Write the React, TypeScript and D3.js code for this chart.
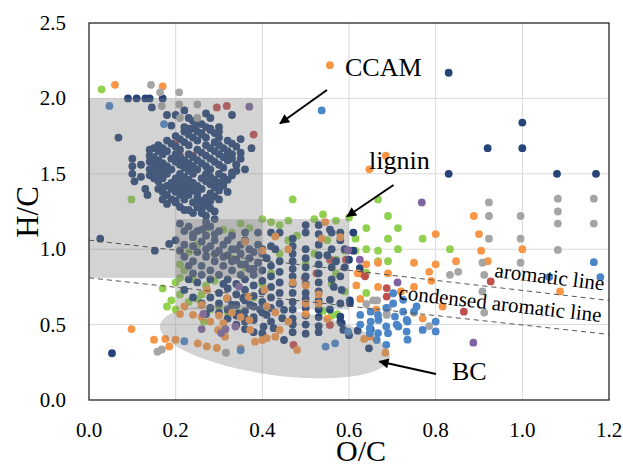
import React from "react";
import * as d3 from "d3";

// ---------- data (O/C, H/C) ----------
const xTicks = [0, 0.2, 0.4, 0.6, 0.8, 1.0, 1.2];
const yTicks = [0, 0.5, 1.0, 1.5, 2.0, 2.5];

const navy: [number, number][] = [
  [0.09,2.0],[0.11,2.0],[0.13,2.0],[0.14,2.0],[0.17,2.0],[0.145,1.94],[0.068,1.74],[0.83,2.17],[0.92,1.67],[1.0,1.84],[1.0,1.67],[0.83,1.5],[1.08,1.5],[1.17,1.5],[0.053,0.31],[0.026,1.07],[0.152,0.99],[0.185,1.035],
  [0.18,1.89],[0.2,1.89],[0.22,1.92],[0.23,1.87],[0.27,1.9],[0.28,1.87],[0.33,1.89],[0.19,1.82],[0.22,1.81],[0.23,1.8],[0.26,1.77],[0.28,1.8],[0.3,1.81],[0.3,1.78],[0.35,1.73],[0.375,1.67],[0.34,1.56],[0.36,1.53],[0.33,1.49],[0.32,1.63],[0.24,1.85],[0.25,1.83],[0.35,1.64],[0.33,1.6],[0.34,1.52],
  [0.26,1.83],[0.27,1.81],[0.28,1.79],[0.29,1.77],[0.3,1.74],[0.32,1.72],[0.33,1.7],[0.34,1.68],
  [0.24,1.8],[0.25,1.78],[0.26,1.76],[0.27,1.74],[0.29,1.71],[0.3,1.69],[0.31,1.67],[0.32,1.65],[0.33,1.63],[0.35,1.6],
  [0.22,1.78],[0.23,1.76],[0.24,1.74],[0.25,1.72],[0.27,1.69],[0.28,1.67],[0.29,1.65],[0.3,1.63],[0.31,1.61],[0.32,1.59],[0.34,1.56],
  [0.2,1.75],[0.21,1.73],[0.22,1.71],[0.23,1.69],[0.25,1.66],[0.26,1.64],[0.27,1.62],[0.28,1.6],[0.29,1.58],[0.3,1.56],[0.31,1.54],[0.33,1.51],
  [0.18,1.72],[0.19,1.7],[0.2,1.68],[0.21,1.66],[0.23,1.63],[0.24,1.61],[0.25,1.59],[0.26,1.57],[0.27,1.55],[0.28,1.53],[0.3,1.5],[0.31,1.48],[0.32,1.46],
  [0.16,1.69],[0.17,1.67],[0.18,1.65],[0.2,1.63],[0.21,1.61],[0.22,1.59],[0.23,1.57],[0.24,1.55],[0.25,1.53],[0.27,1.5],[0.28,1.48],[0.29,1.46],[0.3,1.44],[0.31,1.42],
  [0.15,1.67],[0.16,1.65],[0.17,1.63],[0.19,1.6],[0.2,1.58],[0.21,1.56],[0.22,1.54],[0.23,1.52],[0.24,1.5],[0.26,1.47],[0.27,1.45],[0.28,1.43],[0.29,1.41],[0.3,1.39],
  [0.15,1.61],[0.16,1.59],[0.17,1.57],[0.18,1.55],[0.19,1.53],[0.21,1.5],[0.22,1.48],[0.23,1.46],[0.24,1.44],[0.25,1.42],[0.26,1.4],[0.28,1.37],[0.29,1.35],
  [0.14,1.58],[0.15,1.56],[0.16,1.54],[0.17,1.52],[0.18,1.5],[0.2,1.47],[0.21,1.45],[0.22,1.43],[0.23,1.41],[0.24,1.39],[0.25,1.37],[0.27,1.34],[0.28,1.32],
  [0.14,1.53],[0.15,1.51],[0.16,1.49],[0.17,1.47],[0.19,1.44],[0.2,1.42],[0.21,1.4],[0.22,1.38],[0.23,1.36],[0.25,1.34],[0.26,1.32],[0.27,1.29],
  [0.14,1.49],[0.15,1.47],[0.16,1.45],[0.18,1.42],[0.19,1.4],[0.2,1.38],[0.21,1.36],[0.22,1.33],[0.24,1.31],[0.25,1.29],[0.26,1.27],
  [0.16,1.4],[0.17,1.38],[0.18,1.36],[0.19,1.33],[0.2,1.31],[0.21,1.28],[0.22,1.26],[0.24,1.24],
  [0.1,1.6],[0.1,1.55],[0.1,1.5],[0.105,1.45],[0.14,1.66],[0.14,1.62],[0.13,1.4],[0.135,1.36],[0.12,1.56],[0.12,1.48],
  [0.17,1.41],[0.17,1.33],[0.18,1.3],[0.2,1.32],[0.23,1.26],[0.25,1.31],[0.26,1.24],[0.275,1.3],[0.29,1.25],[0.3,1.33],[0.32,1.38],[0.31,1.45],[0.26,1.25],[0.27,1.22],[0.28,1.27],[0.29,1.2],[0.25,1.28],[0.27,1.18],[0.28,1.15],
  [0.47,1.07],[0.47,1.02],[0.47,0.97],[0.47,0.92],[0.47,0.87],[0.47,0.82],[0.47,0.77],[0.47,0.71],[0.47,0.65],[0.47,0.6],[0.47,0.54],[0.47,0.5],[0.47,0.45],
  [0.5,1.16],[0.5,1.11],[0.5,1.0],[0.5,0.94],[0.5,0.88],[0.5,0.82],[0.5,0.77],[0.5,0.71],[0.5,0.67],[0.5,0.61],[0.5,0.56],[0.5,0.5],[0.5,0.44],
  [0.53,1.16],[0.53,1.1],[0.53,1.03],[0.53,0.96],[0.53,0.9],[0.53,0.84],[0.53,0.78],[0.53,0.72],[0.53,0.66],[0.53,0.6],[0.53,0.55],[0.53,0.49],[0.53,0.45],
  [0.34,1.0],[0.37,1.0],[0.4,1.0],[0.43,1.0],[0.56,1.0],[0.59,1.0],[0.36,1.11],[0.39,1.11],[0.42,1.11],[0.44,1.11],[0.56,1.11],[0.58,1.11],
  [0.44,0.92],[0.42,0.89],[0.4,0.86],[0.38,0.83],[0.36,0.8],[0.34,0.77],[0.32,0.74],[0.3,0.71],[0.28,0.68],
  [0.44,0.85],[0.42,0.82],[0.4,0.79],[0.38,0.76],[0.36,0.73],[0.34,0.7],[0.32,0.67],[0.3,0.64],
  [0.44,0.78],[0.42,0.75],[0.4,0.72],[0.38,0.69],[0.36,0.66],[0.34,0.63],[0.32,0.6],
  [0.44,0.71],[0.42,0.68],[0.4,0.65],[0.38,0.62],[0.36,0.59],[0.34,0.56],
  [0.44,0.64],[0.42,0.61],[0.4,0.58],[0.38,0.55],[0.36,0.52],
  [0.556,1.13],[0.58,1.06],[0.56,0.88],[0.58,0.82],[0.56,0.8],[0.583,0.73],[0.565,0.75],[0.602,0.66],[0.58,0.64],[0.556,0.6],[0.58,0.52],[0.55,0.96],[0.57,0.92],[0.59,0.88],
  [0.356,0.675],[0.372,0.63],[0.395,0.6],[0.41,0.564],[0.42,0.52],[0.38,0.531],[0.403,0.487],[0.426,0.476],[0.33,0.63],[0.343,0.575],[0.36,0.542],[0.45,0.598],[0.446,0.542],[0.45,0.398],[0.4,0.443],[0.58,0.553],[0.583,0.509],[0.587,0.465],[0.556,0.664],[0.602,0.642],[0.646,0.343],[0.65,0.47],[0.6,0.43],[0.62,0.46],[0.3,0.58],[0.28,0.61],[0.26,0.64],[0.32,0.54],[0.34,0.5],[0.36,0.47],[0.38,0.45],[0.27,0.57],[0.24,0.68],[0.22,0.73],
  [0.21,1.17],[0.23,1.15],[0.22,1.12],[0.25,1.12],[0.24,1.08],[0.27,1.09],[0.26,1.05],[0.29,1.06],[0.28,1.02],[0.31,1.03],[0.3,0.99],[0.33,1.0],[0.32,0.96],[0.35,0.97],[0.34,0.93],[0.37,0.94],[0.36,0.9],[0.39,0.91],[0.38,0.87],
  [0.27,1.15],[0.3,1.12],[0.33,1.09],[0.36,1.06],[0.39,1.03],
  [0.25,0.98],[0.27,0.95],[0.29,0.92],[0.31,0.89],[0.33,0.86],[0.35,0.83],
  [0.22,0.95],[0.24,0.92],[0.26,0.89],[0.28,0.86],[0.3,0.83],[0.32,0.8],
  [0.29,0.97],[0.31,0.95],[0.33,0.92],[0.35,0.9],[0.37,0.87],[0.4,0.97],[0.42,1.02],[0.41,0.94],
  [0.2,1.06],[0.22,1.03],[0.21,0.99],[0.23,0.8],[0.25,0.78],[0.24,0.84],
  [0.24,1.1],[0.26,1.13],[0.29,1.1],[0.32,1.06],[0.35,1.03],[0.38,0.98],[0.27,1.0],[0.24,1.02],[0.23,0.89],[0.26,0.83],[0.28,0.8],[0.31,0.77],
  [0.61,1.11],[0.61,0.99],[0.625,0.875],[0.6,0.93],
];

const orange: [number, number][] = [
  [0.556,2.22],[0.06,2.09],[0.17,2.08],[0.685,1.62],[0.647,1.53],
  [0.888,1.22],[0.9,1.1],[0.905,0.99],[0.92,0.92],[1.0,1.0],[1.087,0.72],[0.8,1.1],[0.847,0.92],[0.8,0.9],[0.75,0.91],[0.785,0.85],[0.75,0.75],[0.79,0.79],[0.816,0.62],[0.77,0.54],[0.75,0.58],[0.667,0.91],[0.667,0.75],[0.69,0.84],[0.617,0.76],[0.62,0.84],[0.626,0.67],[0.663,0.6],[0.65,0.42],[0.635,0.405],[0.684,0.314],[0.64,0.9],[0.72,0.72],
  [0.098,0.47],[0.15,0.4],[0.176,0.405],[0.185,0.355],[0.2,0.4],[0.24,0.565],[0.251,0.375],[0.272,0.355],[0.295,0.345],[0.298,0.465],[0.314,0.465],[0.314,0.42],[0.35,0.343],[0.372,0.465],[0.383,0.387],[0.4,0.398],[0.41,0.41],[0.43,0.42],[0.44,0.465],[0.48,0.332],[0.5,0.64],[0.33,0.58],[0.35,0.55],[0.28,0.52],[0.3,0.56],[0.26,0.55],[0.37,0.53],[0.41,0.62],[0.43,0.58],[0.46,0.52],[0.5,0.57],[0.55,0.54],[0.31,0.51],[0.21,0.57],
  [0.545,1.18],[0.537,1.07],[0.43,1.085],[0.46,1.0],[0.405,0.73],[0.368,0.686],[0.318,0.675],[0.272,0.73],[0.26,0.63],[0.36,1.05],[0.4,0.99],[0.58,1.08],[0.47,0.78],[0.22,0.62],[0.53,0.7],[0.5,0.76],[0.53,0.64],
];

const grey: [number, number][] = [
  [0.143,2.09],[0.164,2.04],[0.168,1.95],[0.208,2.04],[0.208,1.96],[0.25,1.96],[0.25,1.87],[0.21,1.87],
  [0.923,1.31],[0.923,1.22],[0.923,1.07],[0.908,0.91],[0.912,0.83],[0.908,0.72],[0.912,0.58],[0.996,1.22],[0.996,1.07],[0.996,0.91],[1.082,1.335],[1.082,1.25],[1.082,1.17],[1.082,0.995],[1.165,1.335],[1.165,1.17],
  [0.833,0.83],[0.852,0.85],[0.665,0.66],[0.69,0.61],[0.687,0.57],[0.785,0.49],
  [0.158,0.32],[0.168,0.335],[0.316,0.314],[0.64,0.637],[0.656,0.66],[0.687,0.564],
];

const blue: [number, number][] = [
  [0.047,1.95],[0.173,1.83],[0.537,1.92],[1.165,0.914],[1.18,0.815],[1.062,0.815],
  [0.626,0.564],[0.65,0.586],[0.626,0.5],[0.65,0.52],[0.667,0.564],[0.686,0.61],[0.702,0.64],[0.725,0.586],[0.71,0.5],[0.735,0.52],[0.75,0.586],[0.8,0.52],[0.8,0.455],[0.735,0.4],[0.686,0.488],[0.667,0.444],[0.686,0.366],[0.77,0.465],[0.702,0.708],[0.725,0.664],[0.648,0.443],[0.664,0.398],[0.69,0.443],[0.714,0.487],[0.733,0.531],[0.733,0.454],[0.706,0.553],[0.756,0.62],[0.668,0.531],[0.648,0.476],
  [0.546,0.354],[0.568,0.376],[0.598,0.453],[0.35,0.33],[0.22,0.39],
];

const green: [number, number][] = [
  [0.029,2.06],[0.098,1.33],[0.47,1.33],[0.667,1.33],[0.69,1.22],[0.713,1.14],[0.77,1.07],[0.833,1.0],[0.713,1.0],[0.69,1.07],[0.667,0.99],[0.64,1.0],[0.615,1.07],[0.64,1.14],[0.6,1.21],[0.64,0.845],[0.69,0.92],[0.64,0.71],[0.573,0.57],[0.667,0.92],[0.615,0.99],
  [0.4,1.2],[0.42,1.18],[0.44,1.16],[0.46,1.19],[0.54,1.23],[0.52,1.2],[0.57,1.19],[0.37,1.14],[0.35,1.17],[0.33,1.11],[0.31,1.13],[0.27,1.13],[0.25,1.03],[0.23,0.98],[0.21,0.9],[0.22,0.86],[0.24,0.8],[0.2,0.78],[0.27,0.76],[0.29,0.79],[0.26,0.7],[0.21,0.7],[0.19,0.66],[0.23,0.65],[0.25,0.67],[0.28,0.6],[0.32,0.58],[0.3,0.62],[0.38,0.68],[0.4,0.77],[0.42,0.84],[0.44,0.97],[0.46,1.06],[0.48,1.09],[0.52,0.97],[0.55,1.06],[0.58,1.11],[0.59,0.99],[0.57,0.84],[0.56,0.77],[0.59,0.72],[0.54,0.59],[0.56,0.56],[0.2,0.6],[0.265,0.52],[0.345,0.58],[0.57,0.93],[0.5,0.9],[0.36,0.88],[0.33,0.94],[0.18,0.62],[0.17,0.74],[0.21,0.81],
];

const red: [number, number][] = [
  [0.295,1.94],[0.318,1.95],[0.38,1.76],[0.2,1.7],[0.21,1.62],[0.24,1.62],[0.23,1.56],[0.498,0.81],[0.556,0.93],[0.565,0.92],[0.525,0.84],[0.472,0.365],[0.556,0.498],[0.687,0.686],[0.687,0.742],[0.637,0.82],[0.626,0.84],[0.865,0.586],[0.927,0.786],[0.593,0.93],[0.47,0.51],
];

const purple: [number, number][] = [
  [0.37,1.945],[0.768,1.31],[0.887,0.38],[0.712,0.78],[0.598,0.993],[0.625,0.93],[0.264,0.571],[0.305,0.444],[0.315,0.47],[0.346,0.752],[0.338,0.487],[0.26,0.47],
];

// reference lines [O/C, H/C] end points
const aromaticLine: [number, number][] = [[0, 1.06], [1.2, 0.66]];
const condensedLine: [number, number][] = [[0, 0.81], [1.2, 0.435]];

// shaded regions
const ccamBox = { x0: 0, x1: 0.4, y0: 0.81, y1: 2.0 };
const ligninBox = { x0: 0.2, x1: 0.6, y0: 0.6, y1: 1.2 };
const bcEllipse = { cx: 0.429, cy: 0.388, rx: 0.268, ry: 0.222, rot: 8 };

const W = 623, H = 466;
const M = { left: 89, right: 609, top: 23, bottom: 400 };
const FONT = "'Liberation Serif', 'Times New Roman', serif";

const series: { data: [number, number][]; color: string }[] = [
  { data: green, color: "#92d050" },
  { data: red, color: "#c0504d" },
  { data: navy, color: "#264478" },
  { data: orange, color: "#f79646" },
  { data: purple, color: "#8064a2" },
  { data: grey, color: "#a5a5a5" },
  { data: blue, color: "#4a86c8" },
];

export default function App() {
  const x = d3.scaleLinear().domain([0, 1.2]).range([M.left, M.right]);
  const y = d3.scaleLinear().domain([0, 2.5]).range([M.bottom, M.top]);
  const line = d3.line<[number, number]>().x((d) => x(d[0])).y((d) => y(d[1]));

  const ex = x(bcEllipse.cx), ey = y(bcEllipse.cy);
  const erx = x(bcEllipse.rx) - x(0), ery = y(0) - y(bcEllipse.ry);

  const arrows = [
    { from: [327, 90], to: [280, 123.5] },
    { from: [393.5, 185], to: [347, 216.5] },
    { from: [436, 374], to: [379.5, 361.5] },
  ];

  return (
    <svg width={W} height={H} style={{ position: "absolute", left: 0, top: 0, background: "#fff" }}
      xmlns="http://www.w3.org/2000/svg">
      <defs>
        <marker id="ah" viewBox="0 0 10 10" refX="9" refY="5" markerWidth="12" markerHeight="10"
          markerUnits="userSpaceOnUse" orient="auto">
          <path d="M0,0 L10,5 L0,10 z" fill="#000" />
        </marker>
        <clipPath id="plot">
          <rect x={M.left} y={M.top} width={M.right - M.left} height={M.bottom - M.top} />
        </clipPath>
      </defs>
      <rect x={0} y={0} width={W} height={H} fill="#fff" />
      {/* grid */}
      {xTicks.slice(1, -1).map((t) => (
        <line key={"gx" + t} x1={x(t)} x2={x(t)} y1={M.top} y2={M.bottom} stroke="#d9d9d9" strokeWidth={1} />
      ))}
      {yTicks.slice(1, -1).map((t) => (
        <line key={"gy" + t} x1={M.left} x2={M.right} y1={y(t)} y2={y(t)} stroke="#d9d9d9" strokeWidth={1} />
      ))}
      {/* points */}
      <g clipPath="url(#plot)">
        {series.map((s, i) => (
          <g key={i} fill={s.color}>
            {s.data.map((d, j) => (
              <circle key={j} cx={x(d[0])} cy={y(d[1])} r={3.9} />
            ))}
          </g>
        ))}
      </g>
      {/* shaded overlays */}
      <g fill="#808080" fillOpacity={0.35}>
        <rect x={x(ccamBox.x0)} y={y(ccamBox.y1)} width={x(ccamBox.x1) - x(ccamBox.x0)} height={y(ccamBox.y0) - y(ccamBox.y1)} />
        <rect x={x(ligninBox.x0)} y={y(ligninBox.y1)} width={x(ligninBox.x1) - x(ligninBox.x0)} height={y(ligninBox.y0) - y(ligninBox.y1)} />
        <ellipse cx={ex} cy={ey} rx={erx} ry={ery} transform={`rotate(${bcEllipse.rot} ${ex} ${ey})`} />
      </g>
      {/* dashed lines */}
      <g clipPath="url(#plot)" fill="none" stroke="#555" strokeWidth={1} strokeDasharray="5,4">
        <path d={line(aromaticLine) || ""} />
        <path d={line(condensedLine) || ""} />
      </g>
      {/* frame */}
      <rect x={M.left} y={M.top} width={M.right - M.left} height={M.bottom - M.top} fill="none" stroke="#262626" strokeWidth={1.3} />
      {/* tick labels */}
      <g fontFamily={FONT} fontSize={21} fill="#000">
        {yTicks.map((t) => (
          <text key={"ty" + t} x={66} y={y(t) + 7} textAnchor="end">{t.toFixed(1)}</text>
        ))}
        {xTicks.map((t) => (
          <text key={"tx" + t} x={x(t)} y={437} textAnchor="middle">{t.toFixed(1)}</text>
        ))}
      </g>
      <text x={361} y={461} textAnchor="middle" fontFamily={FONT} fontSize={30}>O/C</text>
      <text transform="translate(38,212) rotate(-90)" textAnchor="middle" fontFamily={FONT} fontSize={31}>H/C</text>
      {/* annotations */}
      <g fontFamily={FONT} fontSize={26} fill="#000">
        <text x={345} y={76}>CCAM</text>
        <text x={369} y={169}>lignin</text>
        <text x={452} y={380}>BC</text>
      </g>
      <g fontFamily={FONT} fontSize={21} fill="#000">
        <text transform="translate(494,277) rotate(7)">aromatic line</text>
        <text transform="translate(398,299) rotate(6.5)">condensed aromatic line</text>
      </g>
      {arrows.map((a, i) => (
        <line key={"ar" + i} x1={a.from[0]} y1={a.from[1]} x2={a.to[0]} y2={a.to[1]} stroke="#000" strokeWidth={2} markerEnd="url(#ah)" />
      ))}
    </svg>
  );
}
